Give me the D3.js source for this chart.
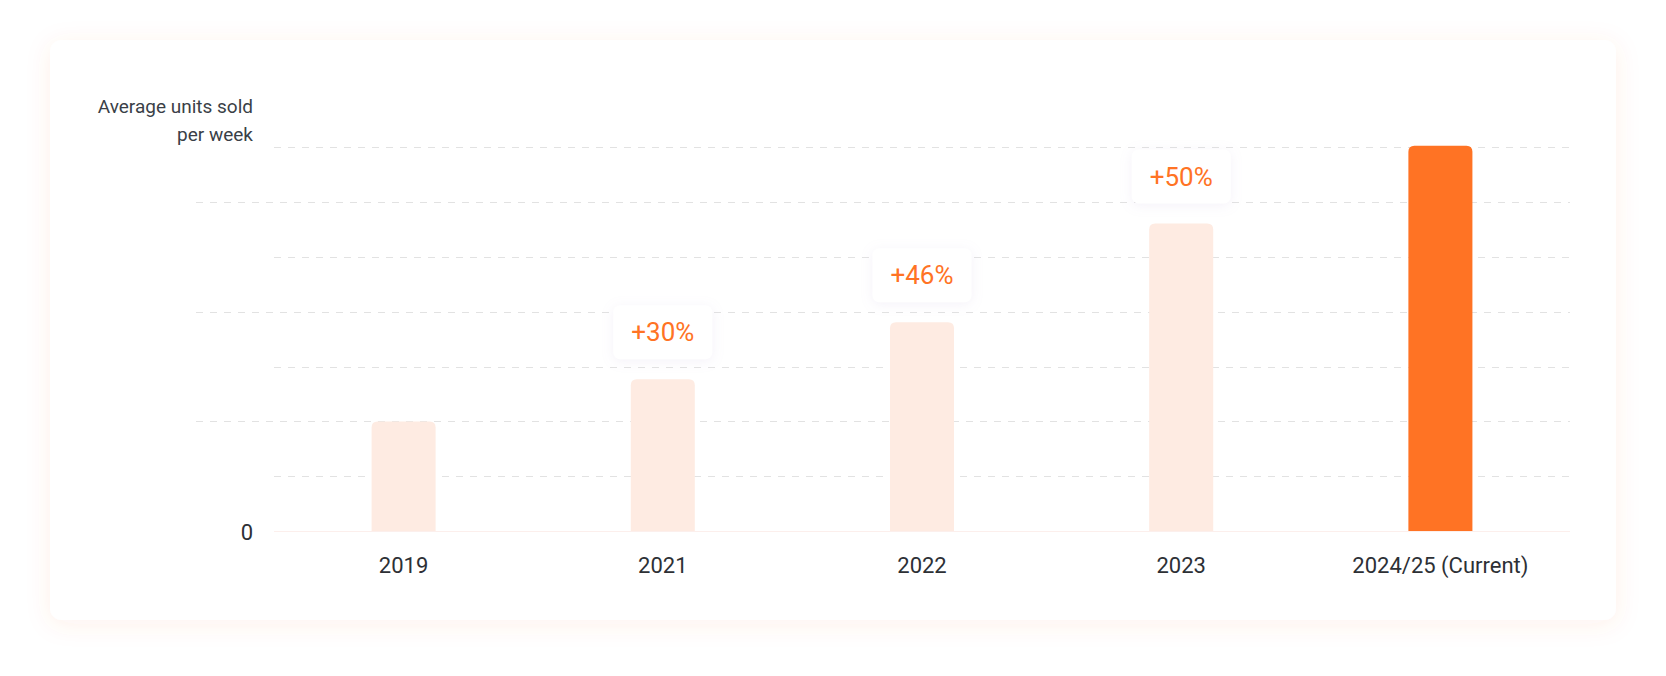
<!DOCTYPE html>
<html>
<head>
<meta charset="utf-8">
<script src="https://cdn.jsdelivr.net/npm/d3@7/dist/d3.min.js"></script>
<style>
  html, body { margin: 0; padding: 0; background: #ffffff; }
  svg { display: block; }
  text { font-family: Roboto, "Noto Sans", sans-serif; }
</style>
</head>
<body>
<svg id="chart" width="1666" height="676"></svg>
<script>
// ---- data ----
const categories = ["2019", "2021", "2022", "2023", "2024/25 (Current)"];
const values = [2.0, 2.77, 3.81, 5.61, 7.03];
const growthLabels = [null, "+30%", "+46%", "+50%", null];
const gridTicks = [1, 2, 3, 4, 5, 6, 7];
const yTickLabels = [0];
const yTitle = ["Average units sold", "per week"];

// ---- styles ----
const ORANGE = "#FF7324";
const LIGHT = "#FEEBE2";

const svg = d3.select("#chart");
const defs = svg.append("defs");

const cardShadow = defs.append("filter").attr("id", "cardShadow")
  .attr("x", "-10%").attr("y", "-15%").attr("width", "120%").attr("height", "130%");
cardShadow.append("feDropShadow").attr("dx", 0).attr("dy", 4).attr("stdDeviation", 12)
  .attr("flood-color", "#ff6a3d").attr("flood-opacity", 0.09);

const badgeShadow = defs.append("filter").attr("id", "badgeShadow")
  .attr("x", "-40%").attr("y", "-60%").attr("width", "180%").attr("height", "220%");
badgeShadow.append("feDropShadow").attr("dx", 0).attr("dy", 2).attr("stdDeviation", 6)
  .attr("flood-color", "#b49ad0").attr("flood-opacity", 0.14);

// card
svg.append("rect")
  .attr("x", 50).attr("y", 40).attr("width", 1566).attr("height", 580).attr("rx", 12)
  .attr("fill", "#ffffff").attr("filter", "url(#cardShadow)");

// scales
const x = d3.scaleBand().domain(categories).range([274, 1570])
  .paddingInner(0.753).paddingOuter(0.3765);
const y = d3.scaleLinear().domain([0, 7]).range([531, 147.4]);

// gridlines
svg.append("g").selectAll("line").data(gridTicks).join("line")
  .attr("x1", d => d % 2 === 0 ? 196 : 274)
  .attr("x2", 1570)
  .attr("y1", d => Math.round(y(d)) + 0.5)
  .attr("y2", d => Math.round(y(d)) + 0.5)
  .attr("stroke", "#e2e2e2").attr("stroke-width", 1)
  .attr("stroke-dasharray", "7 7");

// baseline
svg.append("line")
  .attr("x1", 274).attr("x2", 1570)
  .attr("y1", y(0) + 0.5).attr("y2", y(0) + 0.5)
  .attr("stroke", "#fcefec").attr("stroke-width", 1);

// bars (rounded top corners)
function topRounded(x0, y0, w, h, r) {
  r = Math.min(r, h, w / 2);
  return `M${x0},${y0 + h}V${y0 + r}Q${x0},${y0} ${x0 + r},${y0}H${x0 + w - r}Q${x0 + w},${y0} ${x0 + w},${y0 + r}V${y0 + h}Z`;
}
svg.append("g").selectAll("path").data(values).join("path")
  .attr("d", (v, i) => topRounded(x(categories[i]), y(v), x.bandwidth(), y(0) - y(v), 6))
  .attr("fill", (v, i) => i === values.length - 1 ? ORANGE : LIGHT);

// growth badges
const bw = 99, bh = 54;
const badges = svg.append("g").selectAll("g")
  .data(values.map((v, i) => ({ v, i, label: growthLabels[i] })).filter(d => d.label))
  .join("g")
  .attr("transform", d => {
    const cx = x(categories[d.i]) + x.bandwidth() / 2;
    const by = y(d.v) - 20 - bh;
    return `translate(${cx},${by})`;
  });
badges.append("rect")
  .attr("x", -bw / 2).attr("y", 0).attr("width", bw).attr("height", bh).attr("rx", 7)
  .attr("fill", "#ffffff").attr("filter", "url(#badgeShadow)");
badges.append("text")
  .attr("x", 0).attr("y", bh / 2 + 9)
  .attr("text-anchor", "middle")
  .attr("font-size", 26).attr("fill", ORANGE)
  .text(d => d.label);

// x axis labels
const xAxis = svg.append("g").attr("transform", `translate(0,${y(0)})`)
  .call(d3.axisBottom(x).tickSize(0).tickPadding(0));
xAxis.select(".domain").remove();
xAxis.selectAll("text")
  .attr("dy", null).attr("y", 42)
  .attr("font-size", 22).attr("fill", "#2d3035")
  .style("font-family", "Roboto, 'Noto Sans', sans-serif");

// y axis "0"
const yAxis = svg.append("g").attr("transform", "translate(253,0)")
  .call(d3.axisLeft(y).tickValues(yTickLabels).tickFormat(d3.format("d")).tickSize(0).tickPadding(0));
yAxis.select(".domain").remove();
yAxis.selectAll("text")
  .attr("dy", null).attr("y", 8).attr("x", 0)
  .attr("font-size", 22).attr("fill", "#2d3035")
  .style("font-family", "Roboto, 'Noto Sans', sans-serif");

// y title
svg.append("g").selectAll("text").data(yTitle).join("text")
  .attr("x", 253).attr("y", (d, i) => 113 + i * 28)
  .attr("text-anchor", "end")
  .attr("font-size", 19).attr("fill", "#3a3f47")
  .text(d => d);
</script>
</body>
</html>
